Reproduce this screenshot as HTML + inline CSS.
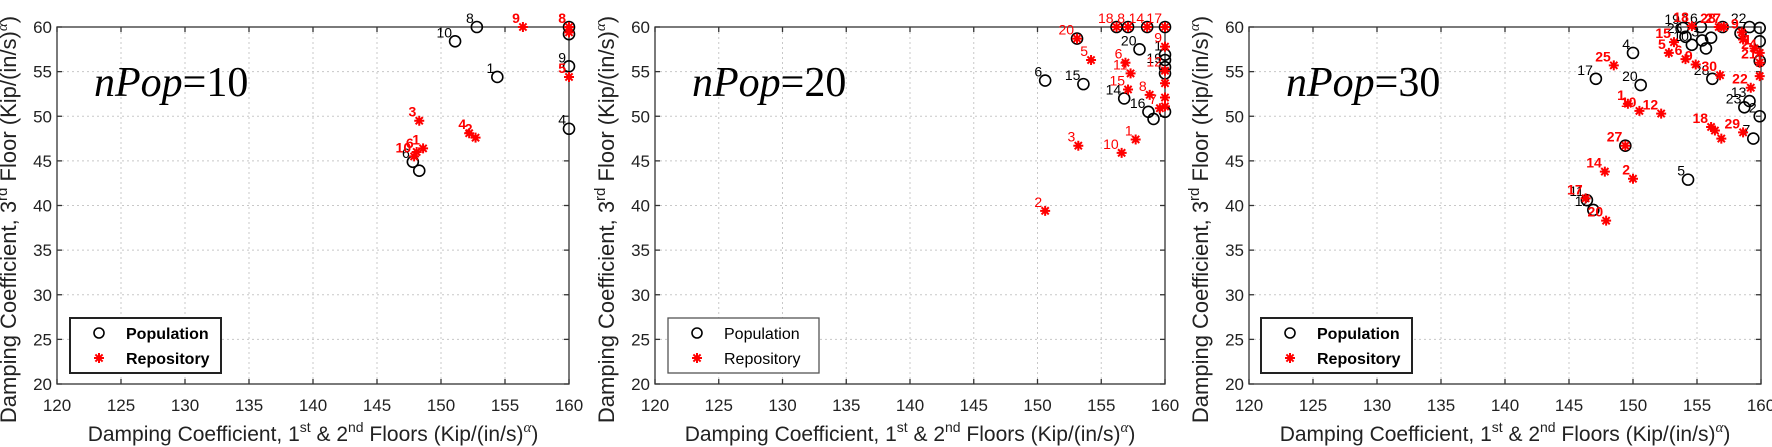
<!DOCTYPE html>
<html><head><meta charset="utf-8">
<style>
html,body{margin:0;padding:0;background:#fff;}
svg{display:block;}
</style></head>
<body>
<svg id="chart" width="1772" height="447" viewBox="0 0 1772 447" xmlns="http://www.w3.org/2000/svg" font-family="Liberation Sans, Arial, sans-serif"></svg>
<script>
// ---- shared axes data ----
const xTicks = [120,125,130,135,140,145,150,155,160];
const yTicks = [20,25,30,35,40,45,50,55,60];
const panelTitles = ["10","20","30"];

// ---- Panel 1 (nPop=10) ----
const p1PopX = [154.4,152.8,160,160,160,160,147.8,148.3,151.1];
const p1PopY = [54.4,60,48.6,55.6,60,59.2,44.9,43.9,58.4];
const p1PopL = ["1","8","4","9","","","6","","10"];
const p1RepX = [156.4,160,160,160,148.3,152.2,152.7,148.6,148.1,147.9];
const p1RepY = [60,60,59.4,54.4,49.5,48.1,47.6,46.4,46.0,45.5];
const p1RepL = ["9","8","","5","3","4","2","1","6","10"];

// ---- Panel 2 (nPop=20) ----
const p2PopX = [158.0,153.6,156.8,158.7,159.1,160,160,160,160,160,153.1,156.2,157.1,158.6,160,150.6];
const p2PopY = [57.5,53.6,52.0,50.5,49.7,56.9,56.3,55.5,54.8,50.5,58.7,60,60,60,60,54.0];
const p2PopL = ["20","15","14","16","","1","","19","","","","","","","","6"];
const p2RepX = [156.2,157.1,158.6,160,153.1,154.2,156.9,157.3,157.1,160,160,160,158.8,160,160,159.6,157.7,153.2,156.6,150.6];
const p2RepY = [60,60,60,60,58.7,56.3,56.0,54.8,53.0,57.8,55.1,53.7,52.4,52.1,51.1,50.9,47.4,46.7,45.9,39.4];
const p2RepL = ["18","8","14","17","20","5","6","11","15","9","12","","8","","","7","1","3","10","2"];

// ---- Panel 3 (nPop=30) ----
const p3PopX = [153.9,155.3,154.1,154.6,155.4,155.7,156.1,150.0,147.1,150.6,156.2,159.1,159.9,159.9,159.9,159.1,158.7,159.9,159.4,149.4,154.3,146.4,146.9,157.0,158.4];
const p3PopY = [59.9,60,58.9,58.0,58.5,57.6,58.8,57.1,54.2,53.5,54.2,60,59.9,58.4,56.2,51.7,51.0,50.0,47.5,46.7,42.9,40.6,39.5,60,59.3];
const p3PopL = ["19","16","26","10","3","","","4","17","20","28","22","","","","13","23","2","7","7","5","11","12","",""];
const p3RepX = [154.6,156.7,157.1,158.5,158.6,159.5,159.9,159.9,159.9,159.2,153.2,152.8,154.1,154.9,156.8,148.5,149.6,150.5,152.2,156.1,156.4,156.9,158.6,149.4,147.8,150.0,146.3,147.9];
const p3RepY = [60.1,60,60,59.4,58.6,57.6,57.1,56.0,54.5,53.2,58.3,57.1,56.4,55.8,54.6,55.7,51.4,50.6,50.3,48.8,48.4,47.5,48.2,46.7,43.8,43.0,40.8,38.3];
const p3RepL = ["18","28","27","9","","1","24","21","","22","15","5","6","9","30","25","1","10","12","18","","","29","27","14","2","17","20"];

const SVGNS = "http://www.w3.org/2000/svg";
const svg = document.getElementById("chart");
function mk(tag, attrs, parent){
  const e = document.createElementNS(SVGNS, tag);
  for (const k in attrs) e.setAttribute(k, attrs[k]);
  (parent||svg).appendChild(e);
  return e;
}
const SERIF = 'font-family:"Liberation Serif",serif;font-style:italic';

const panels = [
  {x0:57,  x1:569,  bold:true,  legX:70,  popX:p1PopX,popY:p1PopY,popL:p1PopL,repX:p1RepX,repY:p1RepY,repL:p1RepL},
  {x0:655, x1:1165, bold:false, legX:668, popX:p2PopX,popY:p2PopY,popL:p2PopL,repX:p2RepX,repY:p2RepY,repL:p2RepL},
  {x0:1249,x1:1761, bold:true,  legX:1261,popX:p3PopX,popY:p3PopY,popL:p3PopL,repX:p3RepX,repY:p3RepY,repL:p3RepL}
];
const Y0 = 27, Y1 = 384;

panels.forEach((p, i) => {
  const sx = v => p.x0 + (v - 120) / 40 * (p.x1 - p.x0);
  const sy = v => Y1 - (v - 20) / 40 * (Y1 - Y0);
  const g = mk("g", {});
  
  

  xTicks.forEach(t => {
    const l = mk("line", {x1:sx(t), x2:sx(t), y1:Y0, y2:Y1, stroke:"#c8c8c8", "stroke-width":1, "stroke-dasharray":"2,3"}, g);
    
    
  });
  yTicks.forEach(t => {
    const l = mk("line", {x1:p.x0, x2:p.x1, y1:sy(t), y2:sy(t), stroke:"#c8c8c8", "stroke-width":1, "stroke-dasharray":"2,3"}, g);
    
    
  });
  const box = mk("rect", {x:p.x0, y:Y0, width:p.x1-p.x0, height:Y1-Y0, fill:"none", stroke:"#333", "stroke-width":1.3}, g);
  
  
  xTicks.forEach(t => {
    mk("line", {x1:sx(t), x2:sx(t), y1:Y1, y2:Y1-5, stroke:"#333","stroke-width":1.3}, g);
    mk("line", {x1:sx(t), x2:sx(t), y1:Y0, y2:Y0+5, stroke:"#333","stroke-width":1.3}, g);
    const tx = mk("text", {x:sx(t), y:Y1+27, "font-size":17, "text-anchor":"middle", fill:"#222"}, g);
    tx.textContent = t;
    
    
  });
  yTicks.forEach(t => {
    mk("line", {x1:p.x0, x2:p.x0+5, y1:sy(t), y2:sy(t), stroke:"#333","stroke-width":1.3}, g);
    mk("line", {x1:p.x1, x2:p.x1-5, y1:sy(t), y2:sy(t), stroke:"#333","stroke-width":1.3}, g);
    const tx = mk("text", {x:p.x0-5, y:sy(t)+6, "font-size":17, "text-anchor":"end", fill:"#222"}, g);
    tx.textContent = t;
    
    
  });
  const xt = mk("text", {x:(p.x0+p.x1)/2, y:441, "font-size":21, "text-anchor":"middle", fill:"#222"}, g);
  xt.innerHTML = 'Damping Coefficient, 1<tspan dy="-9" font-size="14">st</tspan><tspan dy="9"> &amp; 2</tspan><tspan dy="-9" font-size="14">nd</tspan><tspan dy="9"> Floors (Kip/(in/s)</tspan><tspan dy="-9" font-size="15" style=\'' + SERIF + '\'>α</tspan><tspan dy="9">)</tspan>';
  
  
  const ycx = p.x0 - 41, ycy = (Y0+Y1)/2 + 14;
  const yt = mk("text", {x:ycx, y:ycy, "font-size":22, "text-anchor":"middle", fill:"#222", transform:`rotate(-90 ${ycx} ${ycy})`}, g);
  yt.innerHTML = 'Damping Coefficient, 3<tspan dy="-9" font-size="15">rd</tspan><tspan dy="9"> Floor (Kip/(in/s)</tspan><tspan dy="-9" font-size="15" style=\'' + SERIF + '\'>α</tspan><tspan dy="9">)</tspan>';
  
  
  const pt = mk("text", {x:p.x0+37, y:96, "font-size":42, fill:"#000", style:'font-family:"Liberation Serif",serif'}, g);
  pt.innerHTML = '<tspan style="font-style:italic">nPop</tspan>=' + panelTitles[i];
  
  

  p.popX.forEach((v, k) => {
    const c = mk("circle", {cx:sx(v), cy:sy(p.popY[k]), r:5.5, fill:"none", stroke:"#000", "stroke-width":1.6}, g);
    
    
    if (p.popL[k]) {
      const t = mk("text", {x:sx(v)-3, y:sy(p.popY[k])-4, "font-size":14, "text-anchor":"end", fill:"#000"}, g);
      t.textContent = p.popL[k];
      
      
    }
  });
  p.repX.forEach((v, k) => {
    const cx = sx(v), cy = sy(p.repY[k]);
    const s = mk("path", {d:`M${cx-5},${cy}H${cx+5}M${cx},${cy-5}V${cy+5}M${cx-3.6},${cy-3.6}L${cx+3.6},${cy+3.6}M${cx-3.6},${cy+3.6}L${cx+3.6},${cy-3.6}`, stroke:"#ff0000", "stroke-width":2, fill:"none"}, g);
    
    
    if (p.repL[k]) {
      const t = mk("text", {x:cx-3, y:cy-4, "font-size":14, "text-anchor":"end", fill:"#ff0000", "font-weight":p.bold?"bold":"normal"}, g);
      t.textContent = p.repL[k];
      
      
    }
  });

  const lg = mk("g", {}, g);
  
  
  mk("rect", {x:p.legX, y:318, width:151, height:55, fill:"#fff", stroke:p.bold?"#222":"#555", "stroke-width":p.bold?2:1.3}, lg);
  mk("circle", {cx:p.legX+29, cy:333, r:5, fill:"none", stroke:"#000", "stroke-width":1.6}, lg);
  const lx = p.legX+29, ly = 358;
  mk("path", {d:`M${lx-5},${ly}H${lx+5}M${lx},${ly-5}V${ly+5}M${lx-3.6},${ly-3.6}L${lx+3.6},${ly+3.6}M${lx-3.6},${ly+3.6}L${lx+3.6},${ly-3.6}`, stroke:"#ff0000","stroke-width":2}, lg);
  const t1 = mk("text", {x:p.legX+56, y:339, "font-size":16, "font-weight":p.bold?"bold":"normal", fill:"#000"}, lg);
  t1.textContent = "Population";
  
  
  const t2 = mk("text", {x:p.legX+56, y:364, "font-size":16, "font-weight":p.bold?"bold":"normal", fill:"#000"}, lg);
  t2.textContent = "Repository";
  
  
});
</script>
</body></html>
